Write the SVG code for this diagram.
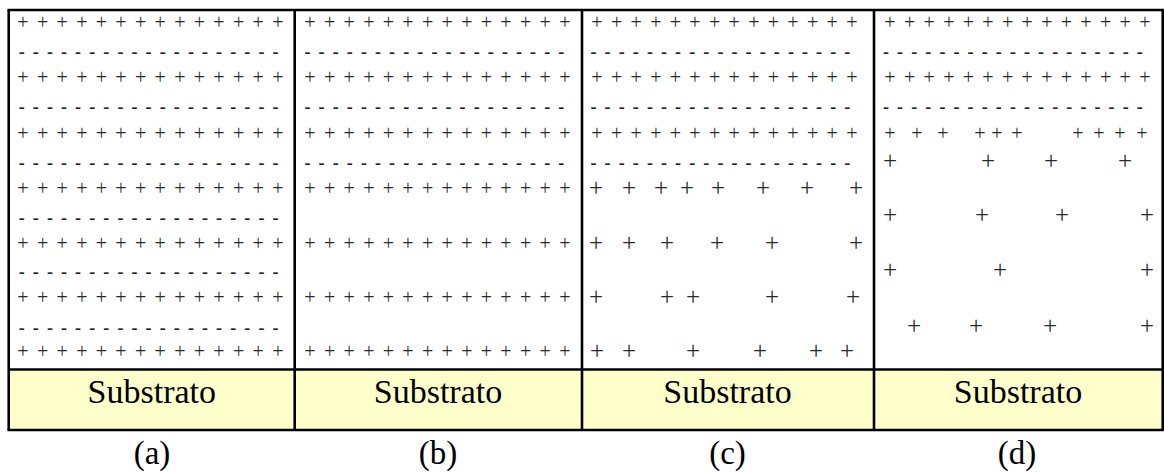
<svg xmlns="http://www.w3.org/2000/svg" width="1164" height="472" viewBox="0 0 1164 472">
<style>
.p{font-family:"Liberation Serif","Times New Roman",serif;font-size:20px;fill:#2a2a2a;text-anchor:middle}
.m{font-family:"Liberation Serif","Times New Roman",serif;font-size:18px;font-weight:bold;fill:#222;text-anchor:middle}
.ps{font-family:"Liberation Serif","Times New Roman",serif;font-size:25px;fill:#2a2a2a;text-anchor:middle}
.sub{font-family:"Liberation Serif","Times New Roman",serif;font-size:34px;fill:#000;text-anchor:middle}
.lab{font-family:"Liberation Serif","Times New Roman",serif;font-size:33px;fill:#000;text-anchor:middle}
.ln{stroke:#000;stroke-width:2.6;fill:none}
</style>
<defs>
<text id="prow" class="p" x="0 19.6 39.2 58.8 78.4 98 117.6 137.2 156.8 176.4 196 215.6 235.2 254.8" y="0">++++++++++++++</text>
<text id="mrow" class="m" x="0 14.1 28.2 42.3 56.4 70.5 84.6 98.7 112.8 126.9 141 155.1 169.2 183.3 197.4 211.5 225.6 239.7 253.8" y="0">-------------------</text>
</defs>
<rect x="9" y="370" width="1154" height="60" fill="#FFFFCC"/>
<g id="frame">
<line class="ln" x1="7.5" y1="10" x2="1164" y2="10"/>
<line class="ln" x1="7.5" y1="430" x2="1164" y2="430"/>
<line class="ln" x1="8.7" y1="10" x2="8.7" y2="430"/>
<line class="ln" x1="294.7" y1="10" x2="294.7" y2="430"/>
<line class="ln" x1="582" y1="10" x2="582" y2="430"/>
<line class="ln" x1="874" y1="10" x2="874" y2="430"/>
<line class="ln" x1="1162.7" y1="10" x2="1162.7" y2="430"/>
<line class="ln" x1="8.7" y1="369.5" x2="1163" y2="369.5"/>
</g>
<g id="panel-a">
<use href="#prow" x="23" y="28.5"/>
<use href="#mrow" x="21.7" y="57.6"/>
<use href="#prow" x="23" y="84"/>
<use href="#mrow" x="21.7" y="112.6"/>
<use href="#prow" x="23" y="139.5"/>
<use href="#mrow" x="21.7" y="168.6"/>
<use href="#prow" x="23" y="195"/>
<use href="#mrow" x="21.7" y="223.6"/>
<use href="#prow" x="23" y="250"/>
<use href="#mrow" x="21.7" y="278.1"/>
<use href="#prow" x="23" y="303.5"/>
<use href="#mrow" x="21.7" y="333.6"/>
<use href="#prow" x="23" y="358"/>
<text class="sub" x="151.8" y="403">Substrato</text>
<text class="lab" x="152" y="464">(a)</text>
</g>
<g id="panel-b">
<use href="#prow" x="310" y="28.5"/>
<use href="#mrow" x="307.5" y="57.6"/>
<use href="#prow" x="310" y="84"/>
<use href="#mrow" x="307.5" y="112.6"/>
<use href="#prow" x="310" y="139.5"/>
<use href="#mrow" x="307.5" y="168.6"/>
<use href="#prow" x="310" y="195"/>
<use href="#prow" x="310" y="250"/>
<use href="#prow" x="310" y="303.5"/>
<use href="#prow" x="310" y="358"/>
<text class="sub" x="438" y="403">Substrato</text>
<text class="lab" x="438" y="464">(b)</text>
</g>
<g id="panel-c">
<use href="#prow" x="597" y="28.5"/>
<use href="#mrow" x="593.5" y="57.6"/>
<use href="#prow" x="597" y="84"/>
<use href="#mrow" x="593.5" y="112.6"/>
<use href="#prow" x="597" y="139.5"/>
<use href="#mrow" x="593.5" y="168.6"/>
<text class="ps" x="596 629 661 687 718 763 807 856" y="196.25">++++++++</text>
<text class="ps" x="596 629 667 717 772 856" y="251.25">++++++</text>
<text class="ps" x="596 667 693 772 853" y="304.75">+++++</text>
<text class="ps" x="597 629 693 760 816 847" y="359.25">++++++</text>
<text class="sub" x="727.5" y="403">Substrato</text>
<text class="lab" x="727.5" y="464">(c)</text>
</g>
<g id="panel-d">
<use href="#prow" x="890" y="28.5"/>
<use href="#mrow" x="886" y="57.6"/>
<use href="#prow" x="890" y="84"/>
<use href="#mrow" x="886" y="112.6"/>
<text class="p" x="890 917 943 980 997 1017 1078 1099 1120 1142" y="139.5">++++++++++</text>
<text class="ps" x="890 988 1051 1125" y="169.25">++++</text>
<text class="ps" x="890 982 1062 1147" y="223.25">++++</text>
<text class="ps" x="890 1000 1147" y="278.25">+++</text>
<text class="ps" x="914 976 1050 1147" y="334.25">++++</text>
<text class="sub" x="1018" y="403">Substrato</text>
<text class="lab" x="1017" y="464">(d)</text>
</g>
</svg>
